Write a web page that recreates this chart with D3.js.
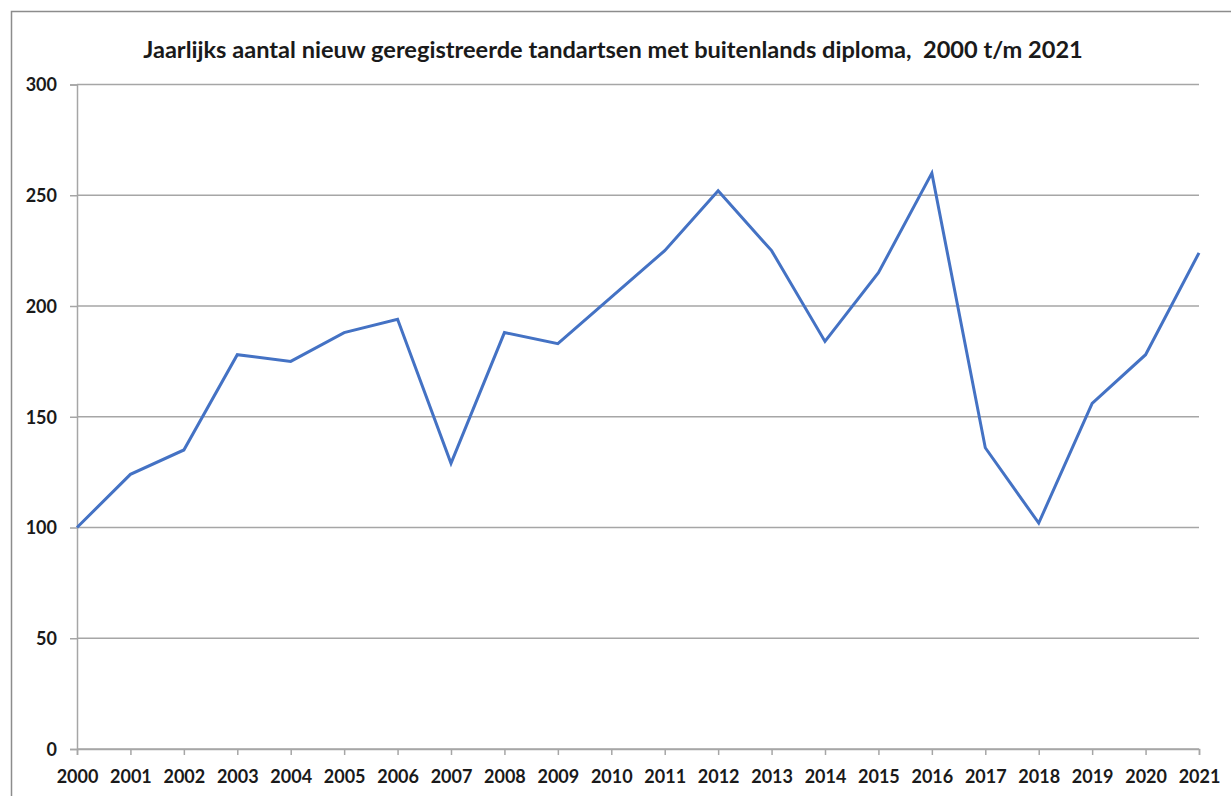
<!DOCTYPE html>
<html>
<head>
<meta charset="utf-8">
<script src="https://cdn.jsdelivr.net/npm/d3@7"></script>
<style>
  body { margin: 0; background: #fff; }
  text { font-family: Lato, "Open Sans", sans-serif; font-weight: bold; fill: #1a1a1a; }
</style>
</head>
<body>
<svg id="chart" width="1231" height="796"></svg>
<script>
const years = [2000, 2001, 2002, 2003, 2004, 2005, 2006, 2007, 2008, 2009, 2010,
  2011, 2012, 2013, 2014, 2015, 2016, 2017, 2018, 2019, 2020, 2021];
const counts = [100, 124, 135, 178, 175, 188, 194, 129, 188, 183, 204,
  225, 252, 225, 184, 215, 260, 136, 102, 156, 178, 224];
const yTicks = [0, 50, 100, 150, 200, 250, 300];
const title = "Jaarlijks aantal nieuw geregistreerde tandartsen met buitenlands diploma,  2000 t/m 2021";

const svg = d3.select("#chart");
const margin = { left: 77, right: 32, top: 84.5, bottom: 47 };
const width = 1231 - margin.left - margin.right;
const height = 796 - margin.top - margin.bottom;

// outer chart frame (right and bottom edges cut off)
svg.append("path")
  .attr("d", "M11.5,796 V11.5 H1231")
  .attr("fill", "none")
  .attr("stroke", "#8c8c8c")
  .attr("stroke-width", 1.5);

svg.append("text")
  .attr("x", 613)
  .attr("y", 58)
  .attr("text-anchor", "middle")
  .attr("font-size", 23.6)
  .style("white-space", "pre")
  .text(title);

const g = svg.append("g").attr("transform", `translate(${margin.left},${margin.top})`);

const x = d3.scaleLinear().domain([2000, 2021]).range([0, width]);
const y = d3.scaleLinear().domain([0, 300]).range([height, 0]);

// horizontal gridlines
g.append("g")
  .selectAll("line")
  .data(yTicks)
  .enter()
  .append("line")
  .attr("x1", 0)
  .attr("x2", width)
  .attr("y1", (d) => y(d))
  .attr("y2", (d) => y(d))
  .attr("stroke", "#a6a6a6")
  .attr("stroke-width", 1.5);

// y axis
const yAxis = g.append("g")
  .call(d3.axisLeft(y).tickValues(yTicks).tickSize(7).tickPadding(13).tickFormat(d3.format("d")));
yAxis.select(".domain").attr("stroke", "#a6a6a6").attr("stroke-width", 1.5);
yAxis.selectAll(".tick line").attr("stroke", "#a6a6a6").attr("stroke-width", 1.5);
yAxis.selectAll(".tick text").attr("font-size", 18).attr("font-family", null).attr("dy", "0.35em");

// x axis
const xAxis = g.append("g")
  .attr("transform", `translate(0,${height})`)
  .call(d3.axisBottom(x).tickValues(years).tickSize(6).tickPadding(15).tickFormat(d3.format("d")));
xAxis.select(".domain").attr("stroke", "#a6a6a6").attr("stroke-width", 1.5);
xAxis.selectAll(".tick line").attr("stroke", "#a6a6a6").attr("stroke-width", 1.5);
xAxis.selectAll(".tick text").attr("font-size", 18).attr("font-family", null);

// data line
const line = d3.line()
  .x((d, i) => x(years[i]))
  .y((d) => y(d));

g.append("path")
  .datum(counts)
  .attr("fill", "none")
  .attr("stroke", "#4472c4")
  .attr("stroke-width", 3)
  .attr("stroke-linejoin", "miter")
  .attr("d", line);
</script>
</body>
</html>
